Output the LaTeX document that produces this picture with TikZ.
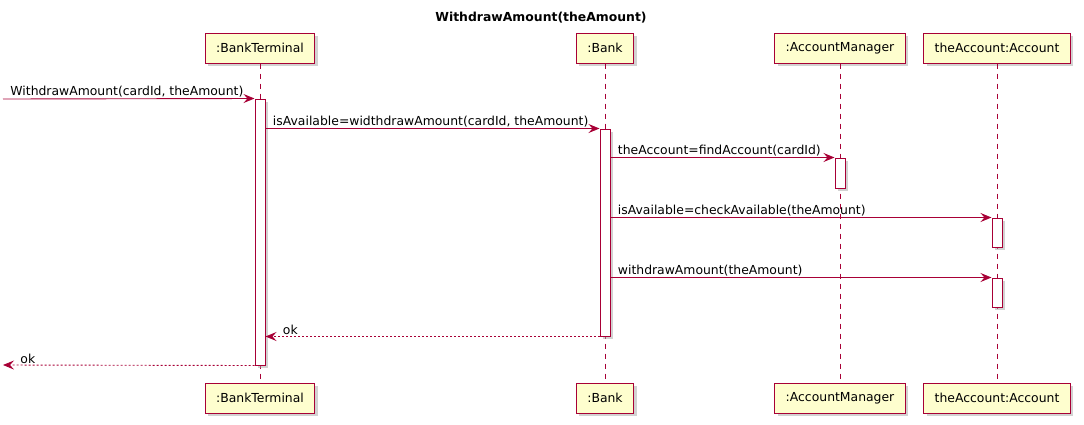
\documentclass[tikz,border=0pt]{standalone}
\usepackage{fontspec}
\setmainfont{DejaVu Sans}
\usetikzlibrary{arrows.meta,shadows}
\definecolor{umlred}{HTML}{A80036}
\definecolor{umlfill}{HTML}{FEFECE}

\begin{document}
\begin{tikzpicture}[x=1pt,y=-1pt,
    part/.style={draw=umlred,fill=umlfill,line width=1pt,minimum height=30pt,inner xsep=11pt,
      font=\fontsize{12.4}{15}\selectfont,
      drop shadow={shadow xshift=3pt,shadow yshift=-3pt,fill=black!35}},
    act/.style={draw=umlred,fill=white,line width=1pt,minimum width=10pt,inner sep=0pt,
      drop shadow={shadow xshift=3pt,shadow yshift=-3pt,fill=black!35}},
    life/.style={umlred,line width=0.8pt,dash pattern=on 5pt off 5pt},
    msg/.style={umlred,line width=0.9pt,-{Stealth[length=11pt,width=9pt,inset=4pt]}},
    ret/.style={msg,dash pattern=on 2pt off 2pt},
    lbl/.style={font=\fontsize{12.4}{15}\selectfont,text=black,inner sep=0pt,anchor=south west}]
  \useasboundingbox (0,0) rectangle (1084,424);

  \node[font=\bfseries\fontsize{12.4}{15}\selectfont] (title) at (541,18) {WithdrawAmount(theAmount)};

  % participants
  \node[part] (bt) at (260,48) {:BankTerminal};
  \node[part] (bk) at (605,48) {:Bank};
  \node[part] (am) at (840,48) {:AccountManager};
  \node[part] (ac) at (997,48) {theAccount:Account};
  \node[part] (btb) at (260,398) {:BankTerminal};
  \node[part] (bkb) at (605,398) {:Bank};
  \node[part] (amb) at (840,398) {:AccountManager};
  \node[part] (acb) at (997,398) {theAccount:Account};

  \draw[life] (bt) -- (btb);
  \draw[life] (bk) -- (bkb);
  \draw[life] (am) -- (amb);
  \draw[life] (ac) -- (acb);

  % activations
  \node[act,minimum height=266pt] (a1) at (260,232) {};
  \node[act,minimum height=207pt] (a2) at (605,232.5) {};
  \node[act,minimum height=30pt] (a3) at (840,173) {};
  \node[act,minimum height=29pt] (a4) at (997,232.5) {};
  \node[act,minimum height=29pt] (a5) at (997,292.5) {};

  \coordinate (in) at (3,99);
  \coordinate (out) at (3,365);

  % messages
  \draw[msg] (in) -- (a1.north west)
    node[lbl,pos=0,xshift=7pt,yshift=1pt] {WithdrawAmount(cardId, theAmount)};
  \draw[msg] (a1.east |- a2.north) -- (a2.north west)
    node[lbl,pos=0,xshift=7pt,yshift=1pt] {isAvailable=widthdrawAmount(cardId, theAmount)};
  \draw[msg] (a2.east |- a3.north) -- (a3.north west)
    node[lbl,pos=0,xshift=7pt,yshift=1pt] {theAccount=findAccount(cardId)};
  \draw[msg] (a2.east |- a4.north) -- (a4.north west)
    node[lbl,pos=0,xshift=7pt,yshift=1pt] {isAvailable=checkAvailable(theAmount)};
  \draw[msg] (a2.east |- a5.north) -- (a5.north west)
    node[lbl,pos=0,xshift=7pt,yshift=1pt] {withdrawAmount(theAmount)};
  \draw[ret] (a2.south west) -- (a1.east |- a2.south)
    node[lbl,pos=1,xshift=17pt,yshift=1pt] {ok};
  \draw[ret] (a1.south west) -- (out)
    node[lbl,pos=1,xshift=17pt,yshift=1pt] {ok};
\end{tikzpicture}
\end{document}
